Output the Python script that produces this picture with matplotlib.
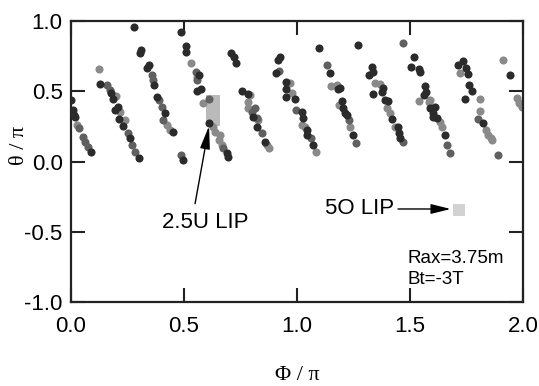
import numpy as np
import matplotlib
matplotlib.use("Agg")
import matplotlib.pyplot as plt

# field-line hit points: (phi/pi, theta/pi, shade)
# shade: d = dark, g = grey, h = checkered (mid grey)
pts = [
    # stripe near phi 0
    (0.000, 0.438, "d"), (0.009, 0.367, "d"), (0.013, 0.331, "d"), (0.018, 0.317, "d"),
    (0.027, 0.260, "g"), (0.035, 0.238, "h"), (0.053, 0.174, "h"), (0.062, 0.139, "h"),
    (0.075, 0.103, "h"), (0.088, 0.068, "d"),
    # stripe 0.12-0.30
    (0.124, 0.658, "g"), (0.128, 0.552, "d"), (0.159, 0.544, "h"), (0.173, 0.509, "h"),
    (0.177, 0.488, "d"), (0.186, 0.445, "d"), (0.199, 0.466, "g"), (0.208, 0.388, "d"),
    (0.195, 0.367, "d"), (0.217, 0.352, "g"), (0.212, 0.302, "d"), (0.239, 0.295, "g"),
    (0.230, 0.253, "d"), (0.252, 0.203, "h"), (0.261, 0.167, "d"), (0.270, 0.117, "h"),
    (0.283, 0.068, "h"), (0.301, 0.025, "d"),
    # stripe 0.28-0.45
    (0.279, 0.957, "d"), (0.310, 0.794, "d"), (0.305, 0.772, "d"), (0.345, 0.687, "d"),
    (0.336, 0.665, "d"), (0.358, 0.616, "h"), (0.363, 0.580, "h"), (0.367, 0.544, "d"),
    (0.381, 0.459, "d"), (0.389, 0.438, "h"), (0.403, 0.388, "h"), (0.416, 0.345, "d"),
    (0.407, 0.295, "h"), (0.425, 0.260, "g"), (0.438, 0.224, "g"), (0.451, 0.210, "d"),
    # stripe 0.49-0.58
    (0.487, 0.922, "d"), (0.509, 0.822, "d"), (0.509, 0.779, "d"), (0.531, 0.701, "g"),
    (0.553, 0.637, "h"), (0.566, 0.616, "d"), (0.558, 0.601, "g"), (0.558, 0.580, "h"),
    (0.558, 0.502, "d"), (0.575, 0.516, "d"), (0.487, 0.046, "h"), (0.496, 0.011, "d"),
    (0.584, 0.416, "g"), (0.611, 0.445, "h"),
    # stripe 0.61-0.70
    (0.611, 0.274, "d"), (0.628, 0.246, "g"), (0.637, 0.210, "g"), (0.659, 0.189, "g"),
    (0.655, 0.153, "g"), (0.668, 0.117, "g"), (0.673, 0.096, "h"), (0.690, 0.060, "d"),
    (0.695, 0.032, "d"),
    # stripe 0.70-0.88
    (0.708, 0.772, "d"), (0.721, 0.744, "d"), (0.730, 0.701, "d"), (0.757, 0.502, "d"),
    (0.783, 0.480, "d"), (0.783, 0.423, "g"), (0.783, 0.381, "g"), (0.801, 0.352, "h"),
    (0.805, 0.317, "d"), (0.792, 0.473, "g"), (0.814, 0.381, "h"), (0.823, 0.310, "h"),
    (0.827, 0.295, "g"), (0.823, 0.246, "d"), (0.845, 0.203, "h"), (0.858, 0.139, "d"),
    (0.867, 0.117, "g"), (0.876, 0.096, "g"),
    # stripe 0.90-1.09
    (0.925, 0.744, "d"), (0.916, 0.722, "d"), (0.920, 0.644, "h"), (0.907, 0.630, "d"),
    (0.951, 0.566, "d"), (0.969, 0.559, "g"), (0.951, 0.516, "d"), (0.978, 0.488, "g"),
    (0.951, 0.459, "d"), (0.991, 0.445, "d"), (0.996, 0.367, "h"), (1.022, 0.352, "d"),
    (1.027, 0.310, "d"), (1.022, 0.260, "g"), (1.035, 0.246, "g"), (1.044, 0.224, "d"),
    (1.044, 0.189, "d"), (1.062, 0.167, "h"), (1.071, 0.117, "d"), (1.084, 0.068, "g"),
    # stripe 1.10-1.27
    (1.097, 0.808, "d"), (1.133, 0.687, "h"), (1.146, 0.630, "d"), (1.150, 0.537, "g"),
    (1.177, 0.544, "g"), (1.181, 0.516, "d"), (1.190, 0.523, "d"), (1.199, 0.431, "d"),
    (1.186, 0.402, "g"), (1.204, 0.381, "d"), (1.212, 0.345, "d"), (1.221, 0.331, "d"),
    (1.230, 0.295, "h"), (1.235, 0.246, "g"), (1.248, 0.189, "d"), (1.261, 0.132, "h"),
    # stripe 1.27-1.47
    (1.270, 0.829, "d"), (1.332, 0.673, "d"), (1.336, 0.637, "d"), (1.319, 0.616, "d"),
    (1.345, 0.559, "g"), (1.367, 0.552, "g"), (1.381, 0.523, "d"), (1.376, 0.495, "d"),
    (1.336, 0.480, "d"), (1.389, 0.438, "d"), (1.403, 0.431, "d"), (1.398, 0.381, "g"),
    (1.412, 0.345, "g"), (1.420, 0.302, "d"), (1.434, 0.246, "g"), (1.447, 0.246, "d"),
    (1.451, 0.203, "d"), (1.456, 0.167, "d"), (1.469, 0.139, "h"),
    # stripe 1.47-1.68
    (1.469, 0.843, "h"), (1.518, 0.744, "d"), (1.504, 0.673, "d"), (1.540, 0.658, "d"),
    (1.544, 0.637, "d"), (1.566, 0.537, "d"), (1.571, 0.495, "d"), (1.562, 0.473, "d"),
    (1.540, 0.431, "g"), (1.584, 0.423, "g"), (1.588, 0.381, "d"), (1.602, 0.317, "d"),
    (1.588, 0.438, "g"), (1.611, 0.388, "d"), (1.602, 0.345, "d"), (1.619, 0.310, "d"),
    (1.633, 0.281, "g"), (1.642, 0.246, "g"), (1.655, 0.189, "d"), (1.664, 0.117, "h"),
    (1.677, 0.060, "h"),
    # stripe 1.70-1.89
    (1.735, 0.715, "d"), (1.712, 0.687, "d"), (1.748, 0.665, "d"), (1.721, 0.630, "g"),
    (1.757, 0.623, "d"), (1.761, 0.544, "d"), (1.774, 0.502, "d"), (1.743, 0.445, "d"),
    (1.810, 0.445, "g"), (1.810, 0.359, "g"), (1.801, 0.302, "h"), (1.823, 0.274, "d"),
    (1.836, 0.224, "g"), (1.845, 0.189, "g"), (1.858, 0.167, "g"), (1.863, 0.153, "g"),
    (1.889, 0.046, "h"),
    # right edge
    (1.912, 0.722, "g"), (1.942, 0.616, "d"), (1.973, 0.452, "g"), (1.982, 0.416, "g"),
    (1.996, 0.388, "g"),
]
phi = np.array([p[0] for p in pts])
theta = np.array([p[1] for p in pts])
shade = np.array([p[2] for p in pts])

# pellet (LIP) positions
lip25_phi = [0.630, 0.630, 0.630, 0.630]
lip25_theta = [0.42, 0.38, 0.34, 0.30]
lip5o_phi = [1.717]
lip5o_theta = [-0.345]

plt.rcParams["font.family"] = ["Liberation Sans", "DejaVu Sans"]
fig = plt.figure(figsize=(5.39, 3.86), dpi=100)
ax = fig.add_axes([0.1317, 0.2176, 0.8386, 0.728])

ax.scatter(lip25_phi, lip25_theta, marker="s", s=115, color="#bababa", lw=0, zorder=1)
ax.scatter(lip5o_phi, lip5o_theta, marker="s", s=75, color="#d2d2d2", lw=0, zorder=1)

m = shade == "g"
ax.scatter(phi[m], theta[m], s=34, color="#8a8a8a", lw=0, zorder=2)
m = shade == "h"
ax.scatter(phi[m], theta[m], s=34, color="#606060", lw=0, zorder=2)
m = shade == "d"
ax.scatter(phi[m], theta[m], s=34, color="#2b2b2b", lw=0, zorder=3)

ax.set_xlim(0, 2); ax.set_ylim(-1, 1)
ax.set_xticks(np.arange(0, 2.01, 0.5)); ax.set_yticks(np.arange(-1, 1.01, 0.5))
ax.xaxis.set_major_formatter(matplotlib.ticker.FormatStrFormatter("%.1f"))
ax.yaxis.set_major_formatter(matplotlib.ticker.FormatStrFormatter("%.1f"))
ax.tick_params(direction="in", length=10, width=1.5, top=True, right=True, labelsize=16, color="#222")
ax.tick_params(axis="x", pad=10)
ax.tick_params(axis="y", pad=6)
for s in ax.spines.values():
    s.set_linewidth(1.6); s.set_color("#222")

# 2.5U LIP label + arrow
ax.annotate("", xy=(0.611, 0.253), xytext=(0.549, -0.30),
            arrowprops=dict(arrowstyle="-|>,head_length=1.4,head_width=0.3", color="k", lw=1,
                            shrinkA=0, shrinkB=0))
ax.text(0.593, -0.431, "2.5U LIP", fontsize=16, ha="center", va="center")
# 5O LIP label + arrow
ax.annotate("", xy=(1.68, -0.338), xytext=(1.447, -0.338),
            arrowprops=dict(arrowstyle="-|>,head_length=1.2,head_width=0.3", color="k", lw=1,
                            shrinkA=0, shrinkB=0))
ax.text(1.428, -0.338, "5O LIP", fontsize=16, ha="right", va="center")

ax.text(1.491, -0.687, "Rax=3.75m", fontsize=13.5, va="center")
ax.text(1.491, -0.843, "Bt=-3T", fontsize=13.5, va="center")

fig.text(0.551, 0.028, "Φ / π", family="Liberation Serif", fontsize=16, ha="center", va="center")
fig.text(0.037, 0.622, "θ / π", family="Liberation Serif", fontsize=16, ha="center", va="center",
         rotation=90)

fig.savefig("out.png", dpi=100)
